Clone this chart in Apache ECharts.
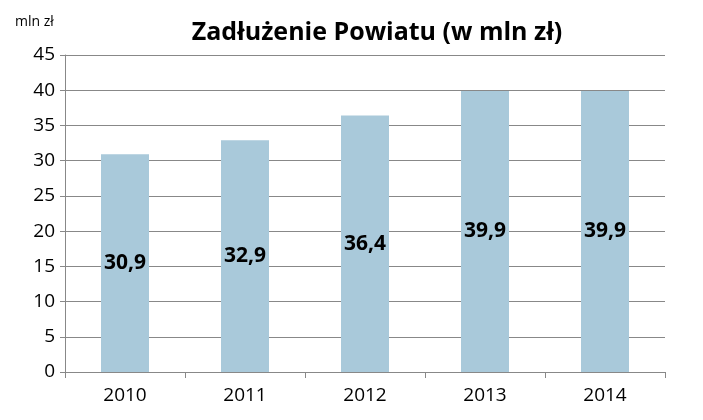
<!DOCTYPE html>
<html><head><meta charset="utf-8">
<script src="https://cdn.jsdelivr.net/npm/echarts@6/dist/echarts.min.js"></script>
<style>html,body{margin:0;background:#fff}#c{width:703px;height:420px}</style>
</head><body><div id="c"></div>
<script>
const categories = ['2010','2011','2012','2013','2014'];
const values = [30.9, 32.9, 36.4, 39.9, 39.9];
const chart = echarts.init(document.getElementById('c'));
chart.setOption({
  animation:false,
  title:[{text:'Zadłużenie Powiatu (w mln zł)',left:372,top:15,textAlign:'center',
    textStyle:{fontFamily:'Open Sans',fontWeight:'bold',fontSize:25,color:'#000'}},
    {text:'mln zł',left:10,top:10,textStyle:{fontFamily:'Open Sans',fontWeight:'normal',fontSize:14,color:'#000'}}],
  grid:{left:65,right:38,top:55,bottom:48},
  xAxis:{type:'category',data:categories,
    axisLine:{lineStyle:{color:'#888'}},axisTick:{show:true,length:6,lineStyle:{color:'#888'}},
    axisLabel:{fontFamily:'Open Sans',fontSize:19,color:'#000',margin:14}},
  yAxis:{type:'value',min:0,max:45,interval:5,
    axisLine:{show:true,lineStyle:{color:'#888'}},axisTick:{show:true,length:5,lineStyle:{color:'#888'}},
    splitLine:{lineStyle:{color:'#888'}},
    axisLabel:{fontFamily:'Open Sans',fontSize:19,color:'#000',margin:10}},
  series:[{type:'bar',data:values,barWidth:48,itemStyle:{color:'#a9c9da'},
    label:{show:true,position:'inside',fontFamily:'Open Sans',fontWeight:'bold',fontSize:21,color:'#000',
      formatter:p=>String(p.value).replace('.',',')}}]
});
</script></body></html>
